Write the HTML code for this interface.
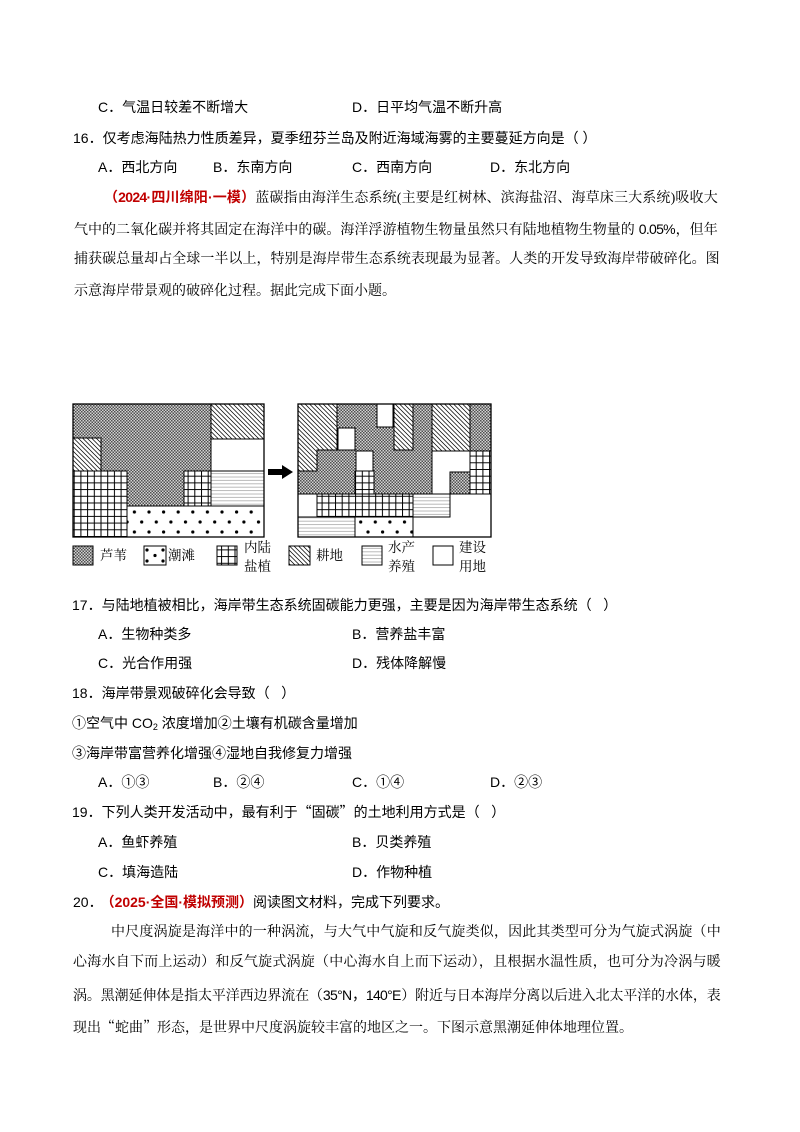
<!DOCTYPE html>
<html lang="zh-CN">
<head>
<meta charset="utf-8">
<style>
html,body{margin:0;padding:0;background:#fff;}
body{width:800px;height:1132px;position:relative;overflow:hidden;color:#000;}
.q{position:absolute;font-family:"Liberation Sans","Noto Sans CJK SC",sans-serif;font-size:14px;line-height:20px;white-space:nowrap;}
.p{position:absolute;font-family:"Liberation Serif","Noto Serif CJK SC","Noto Serif CJK JP","AR PL UMing CN",serif;font-size:14px;line-height:20px;}
.j{text-align:justify;text-align-last:justify;letter-spacing:-0.7px;}
.nw{white-space:nowrap;}
.red{color:#c00000;font-weight:bold;font-family:"Liberation Sans","Noto Sans CJK SC",sans-serif;}
.sans{font-family:"Liberation Sans","Noto Sans CJK SC",sans-serif;}
.cjk{font-family:"Noto Sans CJK SC",sans-serif;}
.cjks{font-family:"Noto Serif CJK SC",serif;}
.lg{position:absolute;font-family:"Liberation Serif","Noto Serif CJK SC",serif;font-size:13.5px;line-height:19px;white-space:nowrap;}
</style>
</head>
<body>

<div class="q" style="left:98px;top:97px;">C．气温日较差不断增大</div>
<div class="q" style="left:352px;top:97px;">D．日平均气温不断升高</div>

<div class="q" style="left:73px;top:127.5px;">16．仅考虑海陆热力性质差异，夏季纽芬兰岛及附近海域海雾的主要蔓延方向是（ ）</div>

<div class="q" style="left:98px;top:157px;">A．西北方向</div>
<div class="q" style="left:213px;top:157px;">B．东南方向</div>
<div class="q" style="left:352px;top:157px;">C．西南方向</div>
<div class="q" style="left:490px;top:157px;">D．东北方向</div>

<div class="p j" style="left:104px;top:187px;width:613px;"><span class="red">（2024·四川绵阳·一模）</span>蓝碳指由海洋生态系统(主要是红树林、滨海盐沼、海草床三大系统)吸收大</div>
<div class="p j" style="left:74px;top:218.5px;width:643px;">气中的二氧化碳并将其固定在海洋中的碳。海洋浮游植物生物量虽然只有陆地植物生物量的<span class="sans"> 0.05%</span>，但年</div>
<div class="p j" style="left:74px;top:250px;width:645px;">捕获碳总量却占全球一半以上，特别是海岸带生态系统表现最为显著。人类的开发导致海岸带破碎化。图</div>
<div class="p nw" style="left:74px;top:281.5px;">示意海岸带景观的破碎化过程。据此完成下面小题。</div>

<svg style="position:absolute;left:0;top:395px;" width="800" height="190" viewBox="0 395 800 190">
<defs>
<pattern id="reed" width="3" height="3" patternUnits="userSpaceOnUse"><rect width="3" height="3" fill="#d2d2d2"/><rect width="1.5" height="1.5" fill="#505050"/><rect x="1.5" y="1.5" width="1.5" height="1.5" fill="#505050"/></pattern>
<pattern id="dots" x="0" y="506" width="14.6" height="20" patternUnits="userSpaceOnUse"><rect width="14.6" height="20" fill="#fff"/><circle cx="3" cy="6" r="1.6" fill="#000"/><circle cx="10.3" cy="16" r="1.6" fill="#000"/></pattern>
<pattern id="dotsL" x="144" y="546" width="22" height="19" patternUnits="userSpaceOnUse"><rect width="22" height="19" fill="#fff"/><circle cx="3" cy="4" r="1.6"/><circle cx="19" cy="4" r="1.6"/><circle cx="11" cy="9.5" r="1.6"/><circle cx="3" cy="15" r="1.6"/><circle cx="19" cy="15" r="1.6"/></pattern>
<pattern id="grid" width="6.7" height="6.7" patternUnits="userSpaceOnUse"><rect width="6.7" height="6.7" fill="#fff"/><path d="M0,0.5H6.7M0.5,0V6.7" stroke="#000" stroke-width="1" fill="none"/></pattern>
<pattern id="hatch" width="4.5" height="4.5" patternUnits="userSpaceOnUse"><rect width="4.5" height="4.5" fill="#fff"/><path d="M-1,-1L5.5,5.5M-1,3.5L1,5.5M3.5,-1L5.5,1" stroke="#000" stroke-width="0.75"/></pattern>
<pattern id="hl" width="8" height="3.4" patternUnits="userSpaceOnUse"><rect width="8" height="3.4" fill="#fff"/><path d="M0,1H8" stroke="#a8a8a8" stroke-width="0.8"/></pattern>
</defs>

<!-- left map -->
<g stroke="#000" stroke-width="1">
<rect x="73" y="404" width="191" height="133" fill="#fff"/>
<path d="M73,404H211V471H184V506H127V471H101V438H73Z" fill="url(#reed)"/>
<rect x="211" y="404" width="53" height="35" fill="url(#hatch)"/>
<rect x="211" y="439" width="53" height="32" fill="#fff"/>
<rect x="211" y="471" width="53" height="35" fill="url(#hl)"/>
<rect x="127" y="506" width="137" height="31" fill="url(#dots)"/>
<rect x="73" y="471" width="54" height="66" fill="url(#grid)"/>
<rect x="73" y="438" width="28" height="33" fill="url(#hatch)"/>
<rect x="184" y="471" width="27" height="35" fill="url(#grid)"/>
<rect x="73" y="404" width="191" height="133" fill="none" stroke-width="1.3"/>
</g>

<!-- arrow -->
<rect x="268" y="469" width="15" height="6" fill="#000"/>
<path d="M282,465L293,472L282,479Z" fill="#000"/>

<!-- right map -->
<g stroke="#000" stroke-width="1">
<rect x="298" y="404" width="193" height="133" fill="url(#reed)"/>
<path d="M298,404H337V450H317V471H298Z" fill="url(#hatch)"/>
<rect x="338" y="428" width="17" height="22" fill="#fff"/>
<rect x="377" y="404" width="16" height="23" fill="#fff"/>
<rect x="394" y="404" width="19" height="46" fill="url(#hatch)"/>
<rect x="432" y="404" width="38" height="47" fill="url(#hatch)"/>
<rect x="356" y="451" width="17" height="20" fill="#fff"/>
<rect x="355" y="471" width="19" height="23" fill="url(#grid)"/>
<path d="M432,451H470V472H450V494H432Z" fill="#fff"/>
<rect x="470" y="451" width="21" height="43" fill="url(#grid)"/>
<rect x="298" y="494" width="19" height="23" fill="#fff"/>
<rect x="317" y="494" width="96" height="23" fill="url(#grid)"/>
<rect x="413" y="494" width="37" height="23" fill="url(#hl)"/>
<path d="M450,494H491V537H413V517H450Z" fill="#fff"/>
<rect x="298" y="517" width="57" height="20" fill="url(#hl)"/>
<rect x="355" y="517" width="58" height="20" fill="url(#dots)"/>
<rect x="298" y="404" width="193" height="133" fill="none" stroke-width="1.3"/>
</g>

<!-- legend swatches -->
<g stroke="#000" stroke-width="1">
<rect x="73" y="546" width="20" height="19" fill="url(#reed)"/>
<rect x="144" y="546" width="22" height="19" fill="url(#dotsL)"/>
<rect x="217" y="546" width="20" height="19" fill="url(#grid)"/>
<rect x="289" y="546" width="21" height="19" fill="url(#hatch)"/>
<rect x="362" y="546" width="20" height="19" fill="url(#hl)"/>
<rect x="433" y="546" width="20" height="19" fill="#fff"/>
</g>
</svg>

<div class="lg" style="left:100px;top:546px;">芦苇</div>
<div class="lg" style="left:168px;top:546px;">潮滩</div>
<div class="lg" style="left:244px;top:538px;">内陆<br>盐植</div>
<div class="lg" style="left:316px;top:546px;">耕地</div>
<div class="lg" style="left:388px;top:538px;">水产<br>养殖</div>
<div class="lg" style="left:459px;top:538px;">建设<br>用地</div>

<div class="q" style="left:72px;top:595px;">17．与陆地植被相比，海岸带生态系统固碳能力更强，主要是因为海岸带生态系统（&nbsp;&nbsp;&nbsp;）</div>
<div class="q" style="left:98px;top:624px;">A．生物种类多</div>
<div class="q" style="left:352px;top:624px;">B．营养盐丰富</div>
<div class="q" style="left:98px;top:653px;">C．光合作用强</div>
<div class="q" style="left:352px;top:653px;">D．残体降解慢</div>

<div class="q" style="left:72px;top:683px;">18．海岸带景观破碎化会导致（&nbsp;&nbsp;&nbsp;）</div>
<div class="q" style="left:72px;top:713px;">①空气中 CO<span style="font-size:9px;vertical-align:-2px;">2</span> 浓度增加②土壤有机碳含量增加</div>
<div class="q" style="left:72px;top:743px;">③海岸带富营养化增强④湿地自我修复力增强</div>
<div class="q" style="left:98px;top:772px;">A．①③</div>
<div class="q" style="left:213px;top:772px;">B．②④</div>
<div class="q" style="left:352px;top:772px;">C．①④</div>
<div class="q" style="left:490px;top:772px;">D．②③</div>

<div class="q" style="left:72px;top:802px;">19．下列人类开发活动中，最有利于<span class="cjk">“</span>固碳<span class="cjk">”</span>的土地利用方式是（&nbsp;&nbsp;&nbsp;）</div>
<div class="q" style="left:98px;top:832px;">A．鱼虾养殖</div>
<div class="q" style="left:352px;top:832px;">B．贝类养殖</div>
<div class="q" style="left:98px;top:862px;">C．填海造陆</div>
<div class="q" style="left:352px;top:862px;">D．作物种植</div>

<div class="q" style="left:73px;top:892px;">20．<span class="red" style="margin-left:5px;">（2025·全国·模拟预测）</span>阅读图文材料，完成下列要求。</div>

<div class="p j" style="left:111px;top:923px;width:609px;">中尺度涡旋是海洋中的一种涡流，与大气中气旋和反气旋类似，因此其类型可分为气旋式涡旋（中</div>
<div class="p j" style="left:73px;top:953px;width:647px;">心海水自下而上运动）和反气旋式涡旋（中心海水自上而下运动），且根据水温性质，也可分为冷涡与暖</div>
<div class="p j" style="left:73px;top:985px;width:647px;">涡。黑潮延伸体是指太平洋西边界流在（<span class="sans">35°N，140°E</span>）附近与日本海岸分离以后进入北太平洋的水体，表</div>
<div class="p nw" style="left:73px;top:1016.5px;">现出<span class="cjks">“</span>蛇曲<span class="cjks">”</span>形态，是世界中尺度涡旋较丰富的地区之一。下图示意黑潮延伸体地理位置。</div>

</body>
</html>
